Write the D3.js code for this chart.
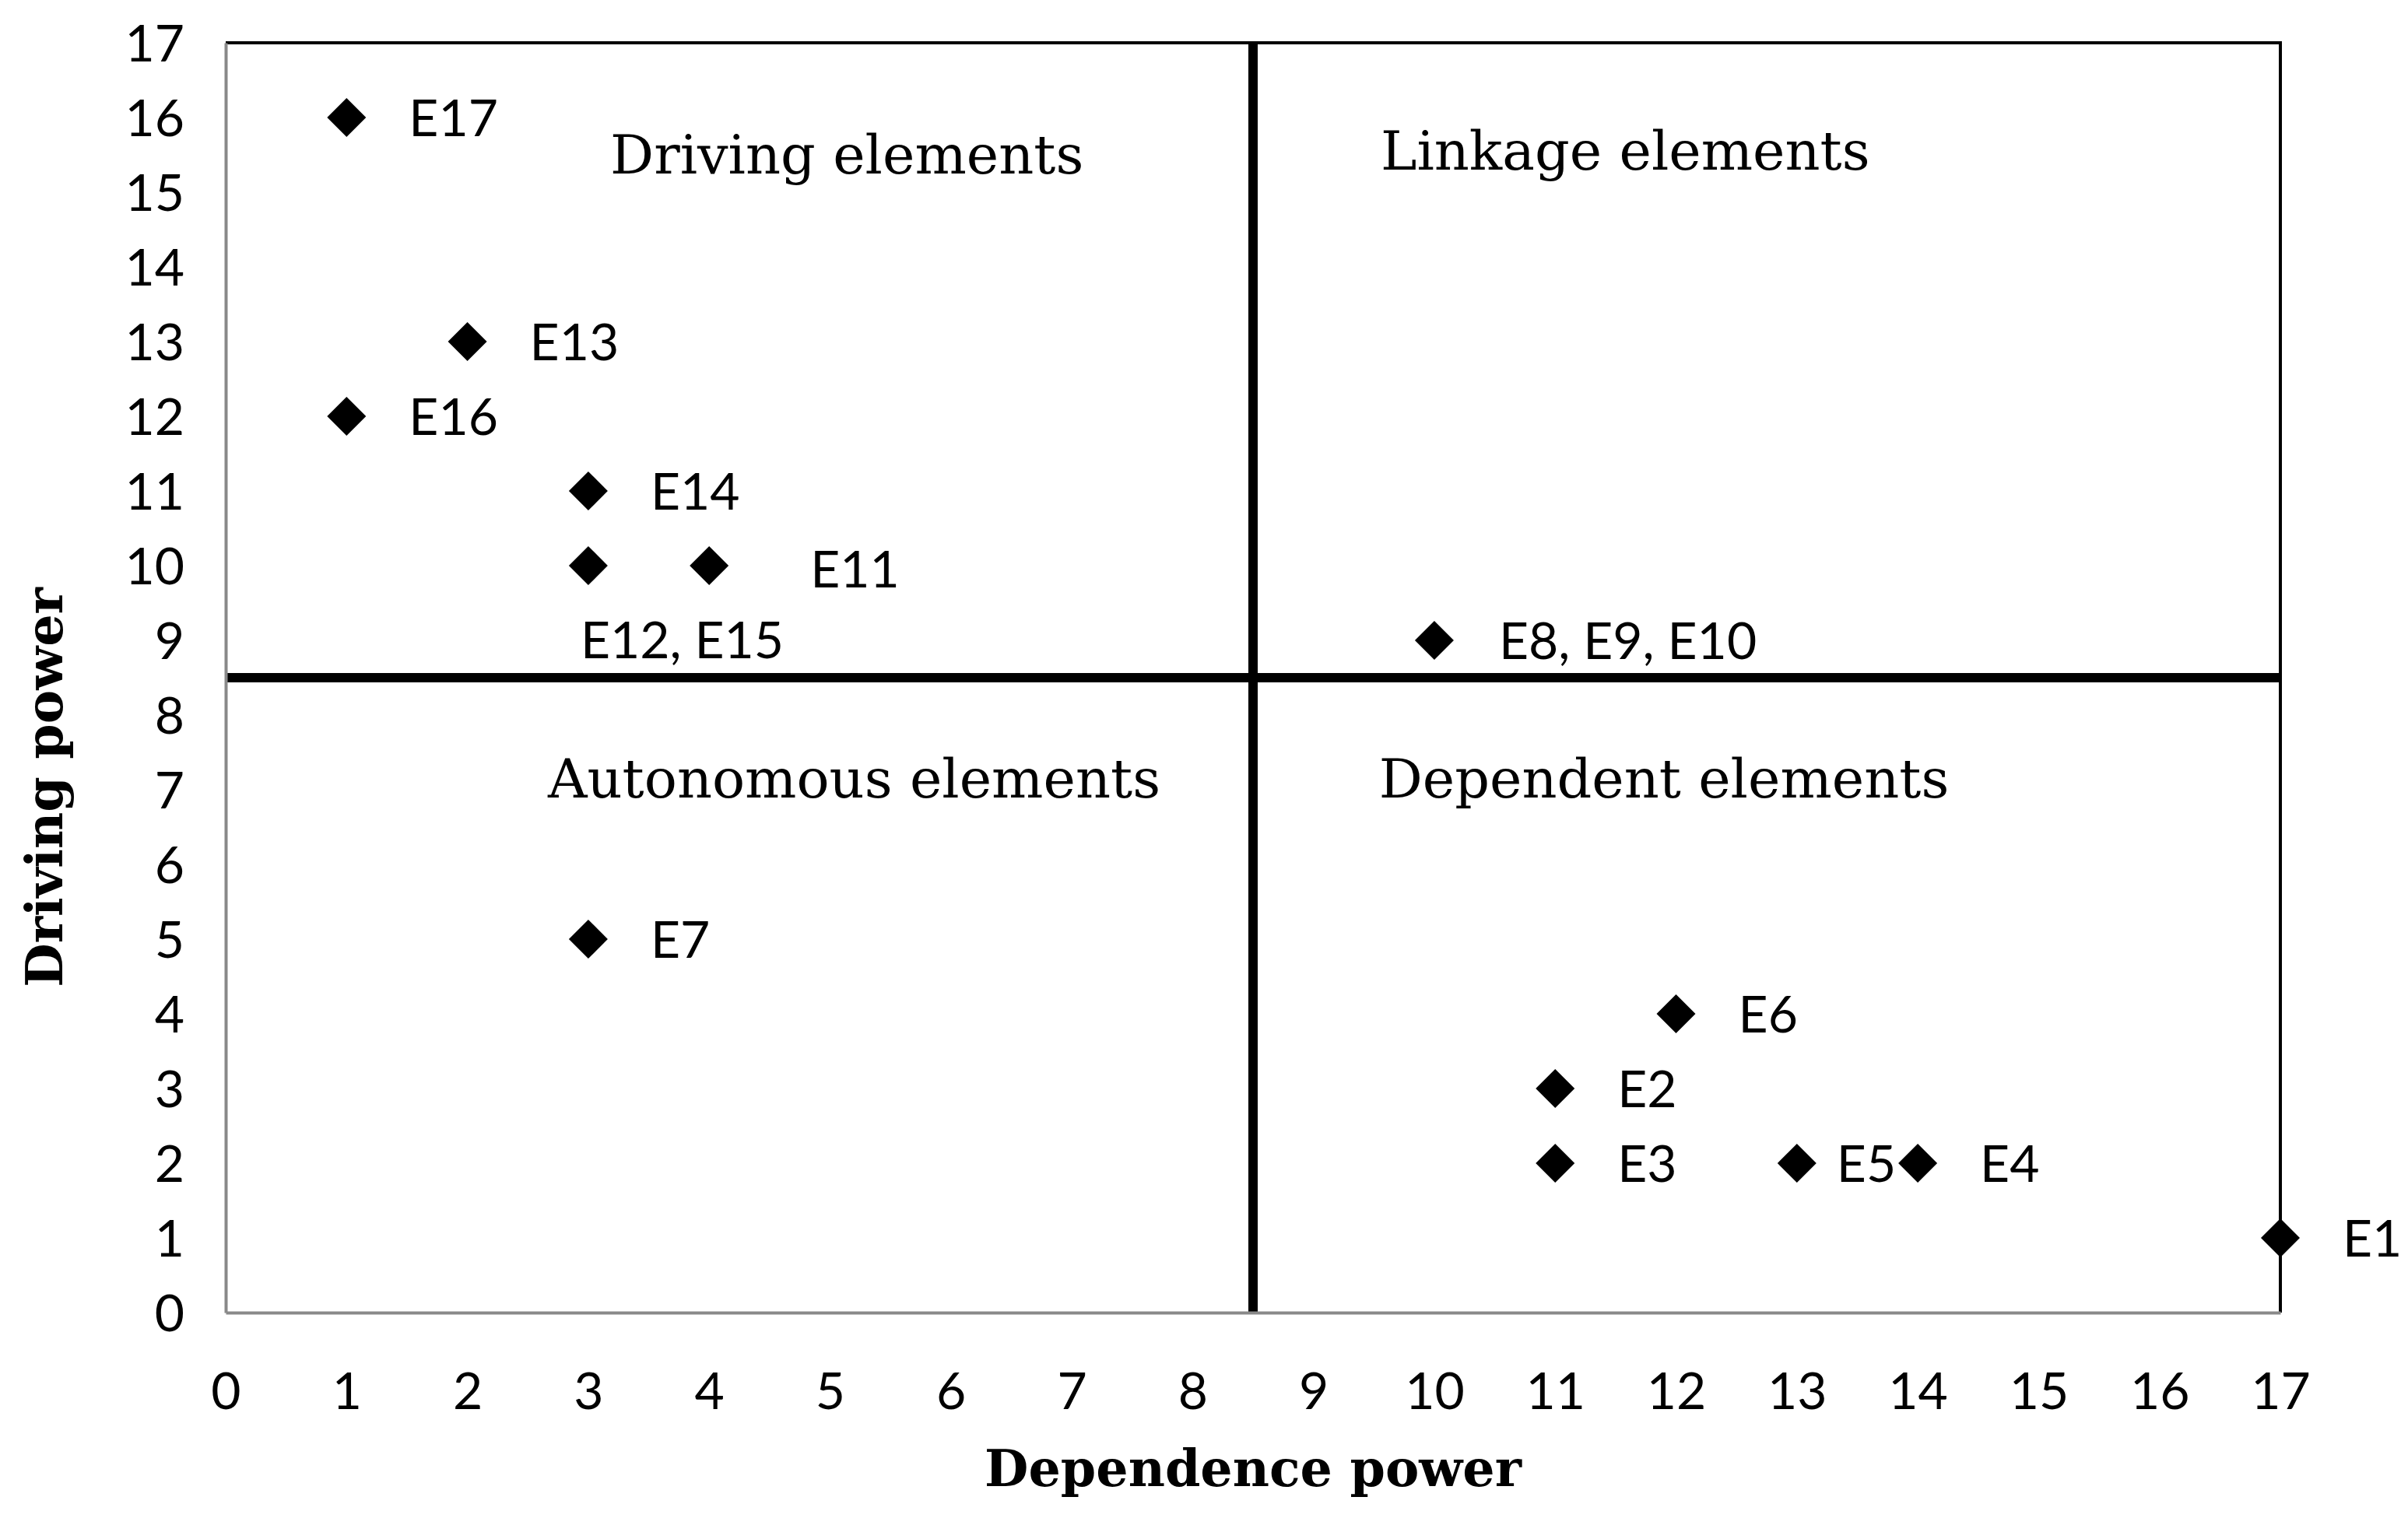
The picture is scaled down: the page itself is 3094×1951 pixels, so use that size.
<!DOCTYPE html>
<html>
<head>
<meta charset="utf-8">
<script src="https://cdn.jsdelivr.net/npm/d3@7"></script>
<style>
  body { margin: 0; background: #fff; }
  svg { display: block; }
</style>
</head>
<body>
<div id="chart"></div>
<script>
// elements of the MICMAC analysis
var elementLabels = ["E17", "E13", "E16", "E14", "E12, E15", "E11", "E8, E9, E10",
                     "E7", "E6", "E2", "E3", "E5", "E4", "E1"];
var dependence = [1, 2, 1, 3, 3, 4, 10, 3, 12, 11, 11, 13, 14, 17];
var driving    = [16, 13, 12, 11, 10, 10, 9, 5, 4, 3, 2, 2, 2, 1];

var axisTicks = d3.range(0, 18);
var quadrantNames = ["Driving elements", "Linkage elements", "Autonomous elements", "Dependent elements"];

// where the point labels sit relative to their marker (px)
var labelShift = {
    "E12, E15": [-10, 95],
    "E11": [130, 4],
    "E5": [51, 0],
    "E8, E9, E10": [83, 0]
};
// quadrant title placement, in axis units (centre x, baseline y)
var quadrantPos = [[5.14, 15.25], [11.58, 15.3], [5.2, 6.9], [11.9, 6.9]];

var width = 3094, height = 1951;
var margin = {left: 290, right: 164, top: 55, bottom: 264};

var svg = d3.select("#chart")
    .append("svg")
    .attr("width", width)
    .attr("height", height);

var x = d3.scaleLinear().domain([0, 17]).range([margin.left, width - margin.right]);
var y = d3.scaleLinear().domain([0, 17]).range([height - margin.bottom, margin.top]);

var tickFont = "Lato, 'Open Sans', sans-serif";
var serifFont = "'DejaVu Serif', 'Liberation Serif', serif";

// plot frame: top / right black
svg.append("path")
    .attr("d", "M" + x(0) + "," + y(17) + "H" + x(17) + "V" + y(0))
    .attr("fill", "none")
    .attr("stroke", "#000")
    .attr("stroke-width", 4);

// quadrant dividers
svg.append("line")
    .attr("x1", x(8.5)).attr("x2", x(8.5))
    .attr("y1", y(17)).attr("y2", y(0))
    .attr("stroke", "#000")
    .attr("stroke-width", 12);
svg.append("line")
    .attr("x1", x(0)).attr("x2", x(17))
    .attr("y1", y(8.5)).attr("y2", y(8.5))
    .attr("stroke", "#000")
    .attr("stroke-width", 12);

// axes
var xAxis = svg.append("g")
    .attr("transform", "translate(0," + y(0) + ")")
    .call(d3.axisBottom(x).tickValues(axisTicks).tickSize(0).tickFormat(d3.format("d")));
xAxis.selectAll("text")
    .attr("y", 124)
    .attr("dy", 0)
    .style("font-family", tickFont)
    .style("font-size", "66px")
    .style("fill", "#000");

var yAxis = svg.append("g")
    .attr("transform", "translate(" + x(0) + ",0)")
    .call(d3.axisLeft(y).tickValues(axisTicks).tickSize(0).tickFormat(d3.format("d")));
yAxis.selectAll("text")
    .attr("x", -53)
    .attr("dy", "0.36em")
    .style("font-family", tickFont)
    .style("font-size", "66px")
    .style("fill", "#000");

svg.selectAll(".domain")
    .attr("stroke", "#898989")
    .attr("stroke-width", 4);

// quadrant titles
svg.selectAll(".quadrant")
    .data(quadrantNames)
    .enter()
    .append("text")
    .attr("class", "quadrant")
    .attr("x", function (d, i) { return x(quadrantPos[i][0]); })
    .attr("y", function (d, i) { return y(quadrantPos[i][1]); })
    .attr("text-anchor", "middle")
    .style("font-family", serifFont)
    .style("font-size", "70px")
    .text(function (d) { return d; });

// points
var points = elementLabels.map(function (d, i) {
    return {name: d, dep: dependence[i], drv: driving[i]};
});

var r = 25;
svg.selectAll(".pt")
    .data(points)
    .enter()
    .append("path")
    .attr("class", "pt")
    .attr("d", d3.symbol().type(d3.symbolDiamond2).size(Math.pow(r / 0.62625, 2)))
    .attr("transform", function (d) { return "translate(" + x(d.dep) + "," + y(d.drv) + ")"; })
    .attr("fill", "#000");

svg.selectAll(".pt-label")
    .data(points)
    .enter()
    .append("text")
    .attr("class", "pt-label")
    .attr("x", function (d) {
        var s = labelShift[d.name] || [80, 0];
        return x(d.dep) + s[0];
    })
    .attr("y", function (d) {
        var s = labelShift[d.name] || [80, 0];
        return y(d.drv) + s[1];
    })
    .attr("dy", "0.36em")
    .style("font-family", tickFont)
    .style("font-size", "66px")
    .text(function (d) { return d.name; });

// axis titles
svg.append("text")
    .attr("x", x(8.5))
    .attr("y", 1910)
    .attr("text-anchor", "middle")
    .style("font-family", serifFont)
    .style("font-weight", "bold")
    .style("font-size", "65px")
    .text("Dependence power");

svg.append("text")
    .attr("transform", "translate(80," + 1012 + ") rotate(-90)")
    .attr("text-anchor", "middle")
    .style("font-family", serifFont)
    .style("font-weight", "bold")
    .style("font-size", "65px")
    .text("Driving power");
</script>
</body>
</html>
